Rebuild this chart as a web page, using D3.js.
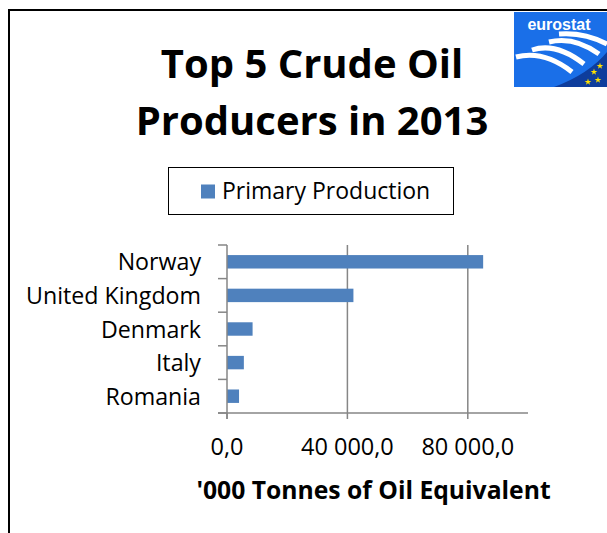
<!DOCTYPE html>
<html>
<head>
<meta charset="utf-8">
<script src="https://cdn.jsdelivr.net/npm/d3@7"></script>
<style>
  body { margin: 0; background: #fff; }
  text { font-family: "Open Sans", Lato, sans-serif; }
</style>
</head>
<body>
<svg id="chart" width="607" height="533"></svg>
<script>
const countries = ["Norway", "United Kingdom", "Denmark", "Italy", "Romania"];
const production = [85100, 42000, 8500, 5600, 4000];
const xTicks = [0, 40000, 80000];
const seriesName = "Primary Production";
const titleLines = ["Top 5 Crude Oil", "Producers in 2013"];
const axisTitle = "'000 Tonnes of Oil Equivalent";

const svg = d3.select("#chart");
const grey = "#868686";
const blue = "#4F81BD";

// frame
svg.append("rect")
    .attr("x", 9).attr("y", 10)
    .attr("width", 640).attr("height", 600)
    .attr("fill", "none").attr("stroke", "#000").attr("stroke-width", 2);

// title
svg.append("g").selectAll("text")
    .data(titleLines)
    .enter().append("text")
    .attr("x", 312)
    .attr("y", (d, i) => 78 + i * 57)
    .attr("text-anchor", "middle")
    .style("font-size", "40px")
    .style("font-weight", "bold")
    .text(d => d);

// legend
svg.append("rect")
    .attr("x", 168.5).attr("y", 167.5)
    .attr("width", 285).attr("height", 47)
    .attr("fill", "#fff").attr("stroke", "#000").attr("stroke-width", 1);
svg.append("rect")
    .attr("x", 201).attr("y", 184.5)
    .attr("width", 14).attr("height", 14)
    .attr("fill", blue);
svg.append("text")
    .attr("x", 222).attr("y", 199)
    .style("font-size", "23px")
    .text(seriesName);

// plot
const plot = { left: 227, right: 528, top: 245, bottom: 413 };

const x = d3.scaleLinear().domain([0, 100000]).range([plot.left, plot.right]);
const y = d3.scaleBand().domain(countries).range([plot.top, plot.bottom]).paddingInner(0.6).paddingOuter(0.3);
const band = d3.scaleBand().domain(countries).range([plot.top, plot.bottom]);

// gridlines
svg.append("g").selectAll("line")
    .data(xTicks.filter(d => d > 0))
    .enter().append("line")
    .attr("x1", d => x(d)).attr("x2", d => x(d))
    .attr("y1", plot.top).attr("y2", plot.bottom)
    .attr("stroke", grey).attr("stroke-width", 1.5);

// bars
svg.append("g").selectAll("rect")
    .data(countries)
    .enter().append("rect")
    .attr("x", x(0))
    .attr("y", d => y(d))
    .attr("width", (d, i) => x(production[i]) - x(0))
    .attr("height", y.bandwidth())
    .attr("fill", blue);

// y axis
const yAxis = svg.append("g");
yAxis.append("line")
    .attr("x1", plot.left).attr("x2", plot.left)
    .attr("y1", plot.top).attr("y2", plot.bottom + 6)
    .attr("stroke", grey).attr("stroke-width", 1.5);
yAxis.selectAll("line.tick")
    .data(countries.concat(["end"]))
    .enter().append("line")
    .attr("class", "tick")
    .attr("x1", plot.left - 9).attr("x2", plot.left)
    .attr("y1", d => d === "end" ? plot.bottom : band(d))
    .attr("y2", d => d === "end" ? plot.bottom : band(d))
    .attr("stroke", grey).attr("stroke-width", 1.5);
yAxis.selectAll("text")
    .data(countries)
    .enter().append("text")
    .attr("x", 201)
    .attr("y", d => band(d) + band.bandwidth() / 2 + 8.5)
    .attr("text-anchor", "end")
    .style("font-size", "23.2px")
    .text(d => d);

// x axis
const xAxis = svg.append("g");
xAxis.append("line")
    .attr("x1", plot.left - 9).attr("x2", plot.right)
    .attr("y1", plot.bottom).attr("y2", plot.bottom)
    .attr("stroke", grey).attr("stroke-width", 1.5);
xAxis.selectAll("line.tick")
    .data(xTicks)
    .enter().append("line")
    .attr("class", "tick")
    .attr("x1", d => x(d)).attr("x2", d => x(d))
    .attr("y1", plot.bottom).attr("y2", plot.bottom + 6)
    .attr("stroke", grey).attr("stroke-width", 1.5);
const fmt = d => d3.format(",.1f")(d).replace(/,/g, " ").replace(".", ",");
xAxis.selectAll("text")
    .data(xTicks)
    .enter().append("text")
    .attr("x", d => x(d))
    .attr("y", 455)
    .attr("text-anchor", "middle")
    .style("font-size", "23.5px")
    .text(fmt);

svg.append("text")
    .attr("x", 373.5).attr("y", 499)
    .attr("text-anchor", "middle")
    .style("font-size", "24.7px")
    .style("font-weight", "bold")
    .text(axisTitle);

// eurostat logo
const logo = svg.append("g").attr("transform", "translate(514,12)");
logo.append("rect").attr("width", 93).attr("height", 75).attr("fill", "#1A6FE8");
logo.append("text")
    .attr("x", 45).attr("y", 18)
    .attr("text-anchor", "middle")
    .attr("fill", "#fff")
    .style("font-family", "'Liberation Sans', Arial, sans-serif")
    .style("font-size", "16px")
    .style("font-weight", "bold")
    .text("eurostat");
const stripes = [
    "M2,45 Q30,38 58,60",
    "M18,38 Q42,30 70,52",
    "M35,30 Q60,24 85,42",
    "M45,22 Q70,20 93,32"
];
logo.selectAll("path.stripe")
    .data(stripes)
    .enter().append("path")
    .attr("class", "stripe")
    .attr("d", d => d)
    .attr("fill", "none")
    .attr("stroke", "#fff")
    .attr("stroke-width", 5);
logo.append("path")
    .attr("d", "M40,75 Q75,62 93,40 L93,75 Z")
    .attr("fill", "#0E3D9C");
logo.selectAll("path.star")
    .data([[80, 60], [86, 54], [84, 68], [74, 70]])
    .enter().append("path")
    .attr("class", "star")
    .attr("d", d3.symbol(d3.symbolStar, 14))
    .attr("transform", d => "translate(" + d[0] + "," + d[1] + ")")
    .attr("fill", "#FFE100");
</script>
</body>
</html>
